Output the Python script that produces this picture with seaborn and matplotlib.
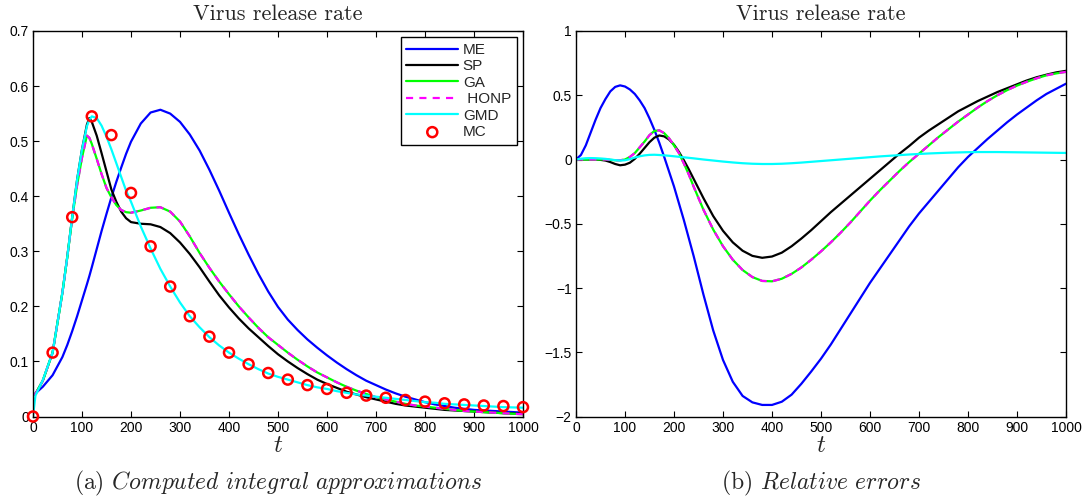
import matplotlib
matplotlib.use("Agg")
import matplotlib.pyplot as plt
import seaborn as sns
import pandas as pd
from matplotlib.ticker import FormatStrFormatter, MultipleLocator

# ---------------- data ----------------
t_left = [0, 5, 20, 40, 60, 70, 80, 90, 100, 110, 115, 120, 130, 140, 150, 160, 170, 180, 190, 200,
          220, 240, 260, 280, 300, 320, 340, 360, 380, 400, 420, 440, 460, 480, 500,
          520, 540, 560, 580, 600, 620, 640, 660, 680, 700, 720, 740, 760, 780, 800,
          820, 840, 860, 880, 900, 920, 940, 960, 980, 1000]

me_rate = [0.039, 0.042, 0.054, 0.075, 0.108, 0.13, 0.155, 0.182, 0.211, 0.24, 0.255, 0.271, 0.304, 0.337,
           0.368, 0.398, 0.426, 0.452, 0.477, 0.499, 0.532, 0.552, 0.557, 0.550, 0.535, 0.512, 0.483,
           0.448, 0.41, 0.37, 0.331, 0.294, 0.259, 0.227, 0.199,
           0.176, 0.157, 0.140, 0.125, 0.111, 0.098, 0.086, 0.075, 0.065, 0.057, 0.049, 0.042, 0.036,
           0.031, 0.026, 0.022, 0.019, 0.016, 0.014, 0.012, 0.011, 0.010, 0.009, 0.008, 0.007]
sp_rate = [0.039, 0.041, 0.065, 0.116, 0.225, 0.29, 0.362, 0.43, 0.485, 0.53, 0.542, 0.535, 0.51, 0.478,
           0.445, 0.412, 0.39, 0.372, 0.36, 0.353, 0.35, 0.349, 0.344, 0.333, 0.316, 0.295, 0.271,
           0.245, 0.22, 0.198, 0.178, 0.16, 0.144, 0.128, 0.113,
           0.100, 0.088, 0.077, 0.067, 0.059, 0.052, 0.045, 0.040, 0.035, 0.031, 0.027, 0.023, 0.020,
           0.018, 0.016, 0.014, 0.012, 0.011, 0.010, 0.009, 0.008, 0.007, 0.006, 0.0055, 0.005]
ga_rate = [0.039, 0.041, 0.065, 0.116, 0.225, 0.29, 0.36, 0.42, 0.47, 0.51, 0.506, 0.495, 0.468, 0.44,
           0.415, 0.398, 0.384, 0.375, 0.371, 0.37, 0.374, 0.379, 0.38, 0.372, 0.354, 0.327, 0.297,
           0.27, 0.245, 0.222, 0.2, 0.18, 0.161, 0.144, 0.130,
           0.116, 0.103, 0.091, 0.080, 0.071, 0.062, 0.054, 0.047, 0.041, 0.035, 0.031, 0.027, 0.023,
           0.020, 0.018, 0.016, 0.014, 0.012, 0.010, 0.009, 0.008, 0.007, 0.006, 0.005, 0.004]
honp_rate = [0.039, 0.041, 0.065, 0.116, 0.225, 0.29, 0.36, 0.42, 0.47, 0.51, 0.506, 0.495, 0.468, 0.44,
             0.415, 0.398, 0.384, 0.375, 0.371, 0.37, 0.374, 0.379, 0.38, 0.372, 0.354, 0.327, 0.297,
             0.27, 0.245, 0.222, 0.2, 0.18, 0.161, 0.144, 0.130,
             0.116, 0.103, 0.091, 0.080, 0.071, 0.062, 0.054, 0.047, 0.041, 0.035, 0.031, 0.027, 0.023,
             0.020, 0.018, 0.016, 0.014, 0.012, 0.010, 0.009, 0.008, 0.007, 0.006, 0.005, 0.004]
gmd_rate = [0.0, 0.038, 0.066, 0.116, 0.225, 0.29, 0.362, 0.43, 0.485, 0.527, 0.539, 0.545, 0.542, 0.528,
            0.508, 0.485, 0.46, 0.435, 0.41, 0.39, 0.345, 0.305, 0.268, 0.236, 0.207, 0.182, 0.162,
            0.144, 0.129, 0.116, 0.105, 0.095, 0.086, 0.078, 0.072,
            0.067, 0.062, 0.057, 0.053, 0.050, 0.046, 0.043, 0.040, 0.038, 0.036, 0.034, 0.032, 0.030,
            0.028, 0.026, 0.025, 0.023, 0.022, 0.021, 0.020, 0.019, 0.018, 0.017, 0.0165, 0.016]

t_mc = [0, 40, 80, 120, 160, 200, 240, 280, 320, 360, 400, 440, 480, 520, 560, 600, 640, 680, 720,
        760, 800, 840, 880, 920, 960, 1000]
mc_rate = [0.0, 0.116, 0.362, 0.545, 0.511, 0.406, 0.309, 0.236, 0.182, 0.145, 0.116, 0.095, 0.079,
           0.067, 0.057, 0.050, 0.043, 0.038, 0.034, 0.030, 0.027, 0.024, 0.022, 0.020, 0.019, 0.017]

t_right = [0, 10, 20, 30, 40, 50, 60, 70, 80, 90, 100, 110, 120, 130, 140, 150, 160, 170, 180, 190, 200,
           210, 220, 230, 240, 260, 280, 300, 320, 340, 360, 380, 400, 420, 440, 460, 480, 500, 520,
           540, 560, 580, 600, 620, 640, 660, 680, 700, 720, 740, 760, 780, 800, 820, 840, 860, 880,
           900, 920, 940, 960, 980, 1000]

me_err = [0.0, 0.035, 0.11, 0.21, 0.31, 0.40, 0.47, 0.53, 0.565, 0.577, 0.568, 0.545, 0.51, 0.46, 0.40,
          0.32, 0.23, 0.13, 0.02, -0.095, -0.21, -0.34, -0.47, -0.61, -0.75, -1.05, -1.33, -1.56, -1.73,
          -1.84, -1.89, -1.91, -1.91, -1.885, -1.83, -1.745, -1.65, -1.55, -1.44, -1.32, -1.20, -1.08,
          -0.96, -0.85, -0.74, -0.63, -0.52, -0.42, -0.33, -0.24, -0.15, -0.06, 0.02, 0.09, 0.16, 0.225,
          0.29, 0.35, 0.405, 0.46, 0.51, 0.55, 0.59]
sp_err = [0.0, 0.0, 0.0, 0.0, 0.0, -0.003, -0.008, -0.02, -0.035, -0.045, -0.04, -0.025, 0.005, 0.045,
          0.09, 0.135, 0.17, 0.187, 0.18, 0.155, 0.115, 0.06, -0.005, -0.075, -0.15, -0.30, -0.44,
          -0.555, -0.645, -0.71, -0.75, -0.765, -0.755, -0.725, -0.675, -0.615, -0.55, -0.48, -0.41,
          -0.345, -0.28, -0.215, -0.15, -0.085, -0.02, 0.045, 0.105, 0.17, 0.225, 0.275, 0.325, 0.375,
          0.415, 0.455, 0.49, 0.525, 0.555, 0.585, 0.615, 0.64, 0.66, 0.678, 0.69]
ga_err = [0.0, 0.0, 0.0, 0.0, 0.0, 0.0, 0.0, -0.003, -0.006, -0.006, 0.0, 0.02, 0.05, 0.095, 0.14, 0.19,
          0.222, 0.227, 0.205, 0.165, 0.11, 0.05, -0.03, -0.115, -0.21, -0.39, -0.545, -0.675, -0.78,
          -0.86, -0.915, -0.945, -0.948, -0.928, -0.89, -0.84, -0.78, -0.715, -0.645, -0.57, -0.49,
          -0.405, -0.32, -0.24, -0.165, -0.09, -0.02, 0.045, 0.11, 0.175, 0.235, 0.295, 0.35, 0.405,
          0.455, 0.5, 0.54, 0.575, 0.605, 0.632, 0.655, 0.67, 0.682]
honp_err = [0.0, 0.0, 0.0, 0.0, 0.0, 0.0, 0.0, -0.003, -0.006, -0.006, 0.0, 0.02, 0.05, 0.095, 0.14, 0.19,
            0.222, 0.227, 0.205, 0.165, 0.11, 0.05, -0.03, -0.115, -0.21, -0.39, -0.545, -0.675, -0.78,
            -0.86, -0.915, -0.945, -0.948, -0.928, -0.89, -0.84, -0.78, -0.715, -0.645, -0.57, -0.49,
            -0.405, -0.32, -0.24, -0.165, -0.09, -0.02, 0.045, 0.11, 0.175, 0.235, 0.295, 0.35, 0.405,
            0.455, 0.5, 0.54, 0.575, 0.605, 0.632, 0.655, 0.67, 0.682]
gmd_err = [0.0, 0.006, 0.01, 0.011, 0.01, 0.008, 0.005, 0.0, -0.005, -0.008, -0.006, 0.003, 0.015, 0.025,
           0.032, 0.036, 0.037, 0.035, 0.032, 0.029, 0.025, 0.021, 0.017, 0.013, 0.009, 0.0, -0.008,
           -0.016, -0.023, -0.029, -0.033, -0.035, -0.035, -0.033, -0.029, -0.024, -0.018, -0.012,
           -0.006, 0.0, 0.006, 0.012, 0.018, 0.024, 0.029, 0.034, 0.039, 0.043, 0.047, 0.05, 0.053,
           0.055, 0.057, 0.058, 0.058, 0.058, 0.057, 0.056, 0.055, 0.054, 0.053, 0.052, 0.051]

series_names = ["ME", "SP", "GA", "HONP", "GMD"]
series_colors = ["#0000ff", "#000000", "#00ff00", "#ff00ff", "#00ffff"]

# ---------------- style ----------------
sns.set_theme(style="white")
plt.rcParams["font.family"] = ["Liberation Sans", "DejaVu Sans"]
plt.rcParams["mathtext.fontset"] = "cm"
plt.rcParams["axes.unicode_minus"] = True

W, H = 1087, 497
fig = plt.figure(figsize=(W / 100, H / 100), dpi=100)
fig.patch.set_facecolor("white")

def px_axes(x0, y0, x1, y1):
    return fig.add_axes([x0 / W, 1 - y1 / H, (x1 - x0) / W, (y1 - y0) / H])

axL = px_axes(33, 31, 523, 416.5)
axR = px_axes(576, 31, 1066, 416.5)

def draw(ax, t, ys):
    for name, col, y in zip(series_names, series_colors, ys):
        df = pd.DataFrame({"t": t, "v": y})
        sns.lineplot(data=df, x="t", y="v", ax=ax, color=col, lw=1.6, estimator=None,
                     errorbar=None, sort=False, label=(" " + name if name == "HONP" else name))
        if name == "HONP":
            ax.lines[-1].set_dashes([3.2, 2.8])

draw(axL, t_left, [me_rate, sp_rate, ga_rate, honp_rate, gmd_rate])
mc_df = pd.DataFrame({"t": t_mc, "v": mc_rate})
sns.scatterplot(data=mc_df, x="t", y="v", ax=axL, marker="o", s=52, facecolor="none",
                edgecolor="#ff0000", linewidth=1.8, zorder=5, label="MC", clip_on=False)

draw(axR, t_right, [me_err, sp_err, ga_err, honp_err, gmd_err])
if axR.get_legend() is not None:
    axR.get_legend().remove()

for ax in (axL, axR):
    ax.set_xlim(0, 1000)
    ax.xaxis.set_major_locator(MultipleLocator(100))
    ax.set_facecolor("white")
    for sp in ax.spines.values():
        sp.set_visible(True)
        sp.set_color("black")
        sp.set_linewidth(1.0)
    ax.tick_params(direction="in", length=4, width=0.8, top=True, right=True,
                   labelsize=10, colors="black", pad=3, bottom=True, left=True)
    ax.set_xlabel("$t$", fontsize=18, labelpad=-1)
    ax.set_ylabel("")
    ax.set_title("Virus release rate", fontsize=16, family="cmr10", pad=8)

axL.set_ylim(0, 0.7)
axL.yaxis.set_major_locator(MultipleLocator(0.1))
axL.yaxis.set_major_formatter(FormatStrFormatter("%g"))
axR.set_ylim(-2, 1)
axR.yaxis.set_major_locator(MultipleLocator(0.5))
axR.yaxis.set_major_formatter(plt.FuncFormatter(lambda v, p: ("%g" % v).replace("-", "\u2212")))

# legend
handles, labels = axL.get_legend_handles_labels()
leg = axL.legend(handles, labels, loc="upper right", fontsize=11, frameon=True, fancybox=False,
                 edgecolor="black", framealpha=1, handlelength=3.4, handletextpad=0.3,
                 labelspacing=0.16, borderpad=0.38, borderaxespad=0.4)
leg.get_frame().set_linewidth(1.0)

# captions
fig.text((33 + 523) / 2 / W, 1 - 483 / H, r"(a) $\mathit{Computed\ integral\ approximations}$",
         ha="center", va="center", fontsize=17, family="cmr10")
fig.text((576 + 1066) / 2 / W, 1 - 483 / H, r"(b) $\mathit{Relative\ errors}$",
         ha="center", va="center", fontsize=17, family="cmr10")

fig.savefig("out.png", dpi=100, facecolor="white")
